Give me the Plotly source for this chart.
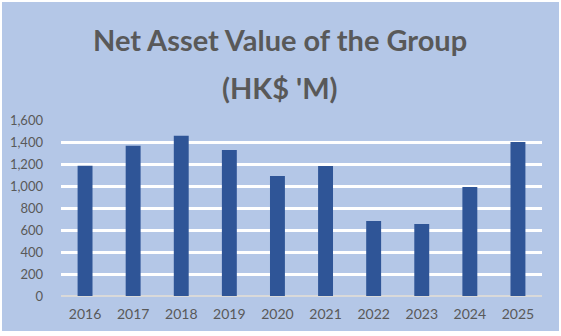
import plotly.graph_objects as go

years = ["2016", "2017", "2018", "2019", "2020", "2021", "2022", "2023", "2024", "2025"]
nav = [1185, 1366, 1457, 1327, 1091, 1182, 682, 655, 991, 1400]
y_ticks = [0, 200, 400, 600, 800, 1000, 1200, 1400, 1600]
title_line1 = "Net Asset Value of the Group"
title_line2 = "(HK$ 'M)"

W, H = 561, 336
L, R, T, B = 61, 19, 120, 40
pw, ph = W - L - R, H - T - B

def px_x(p):
    return (p - L) / pw

def px_y(p):
    return (H - B - p) / ph

fig = go.Figure(go.Bar(x=years, y=nav, marker=dict(color="#2F5597", line=dict(width=0))))

fig.update_layout(
    width=W, height=H,
    margin=dict(l=L, r=R, t=T, b=B, pad=0, autoexpand=False),
    paper_bgcolor="white",
    plot_bgcolor="rgba(0,0,0,0)",
    bargap=0.69,
    showlegend=False,
    font=dict(family="Lato, sans-serif", color="#595959"),
    xaxis=dict(showgrid=False, ticks="", tickfont=dict(size=14, color="#595959"),
               showline=False, zeroline=False, ticklabelstandoff=8, automargin=False),
    yaxis=dict(range=[0, 1600], tickvals=y_ticks, tickformat=",", showgrid=True,
               gridcolor="white", gridwidth=3, zeroline=True, zerolinecolor="#D9D9D9",
               zerolinewidth=1.5, ticks="", ticklabelstandoff=17, automargin=False,
               tickfont=dict(size=13, color="#595959")),
    shapes=[dict(type="rect", xref="paper", yref="paper",
                 x0=px_x(2), x1=px_x(559), y0=px_y(331), y1=px_y(2),
                 fillcolor="#B4C7E7", line=dict(width=0), layer="below")],
    annotations=[
        dict(text="<b>%s</b>" % title_line1, x=px_x(280), y=px_y(39), xref="paper", yref="paper",
             showarrow=False, xanchor="center", yanchor="middle",
             font=dict(size=29, color="#595959", family="Lato, sans-serif")),
        dict(text="<b>%s</b>" % title_line2, x=px_x(280), y=px_y(88), xref="paper", yref="paper",
             showarrow=False, xanchor="center", yanchor="middle",
             font=dict(size=29, color="#595959", family="Lato, sans-serif")),
    ],
)

fig.write_html("out.html")
